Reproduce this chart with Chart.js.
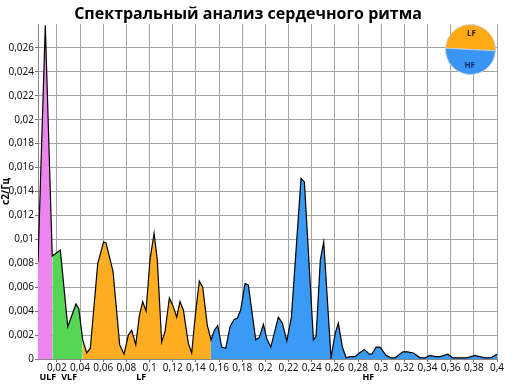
<!DOCTYPE html>
<html>
<head>
<meta charset="utf-8">
<script src="https://cdn.jsdelivr.net/npm/chart.js@4"></script>
<style>
  html, body { margin: 0; padding: 0; background: #fff; }
  #wrap { position: relative; width: 512px; height: 384px; }
  #main { position: absolute; left: 0; top: 0; }
  #pie { position: absolute; left: 445px; top: 24px; }
</style>
</head>
<body>
<div id="wrap">
  <canvas id="main" width="512" height="384"></canvas>
  <canvas id="pie" width="51" height="51"></canvas>
</div>
<script>
const titleText = 'Спектральный анализ сердечного ритма';
const yAxisTitle = 'с2/Гц';

// Spectrum (frequency, Hz  /  power, c2/Hz)
const freq = [
  0.0037, 0.0100, 0.0160,
  0.0230, 0.0294, 0.0365, 0.0389, 0.0423,
  0.0458, 0.0489, 0.0553, 0.0604, 0.0624, 0.0685, 0.0742, 0.0780, 0.0817, 0.0846,
  0.0881, 0.0912, 0.0941, 0.0970, 0.1004, 0.1039, 0.1067, 0.1105, 0.1134, 0.1171,
  0.1200, 0.1235, 0.1263, 0.1292, 0.1335, 0.1364, 0.1399, 0.1430, 0.1459, 0.1499, 0.1531,
  0.1560, 0.1589, 0.1623, 0.1658, 0.1695, 0.1730, 0.1758, 0.1787, 0.1825, 0.1853,
  0.1917, 0.1948, 0.1983, 0.2012, 0.2047, 0.2112, 0.2147, 0.2185, 0.2225, 0.2308,
  0.2337, 0.2415, 0.2438, 0.2475, 0.2504, 0.2567, 0.2602, 0.2630, 0.2665, 0.2697,
  0.2731, 0.2775, 0.2812, 0.2855, 0.2898, 0.2919, 0.2956, 0.2990, 0.3042, 0.3086,
  0.3120, 0.3187, 0.3226, 0.3278, 0.3336, 0.3379, 0.3422, 0.3465, 0.3509, 0.3575,
  0.3618, 0.3653, 0.3739, 0.3811, 0.3848, 0.3897, 0.3946, 0.4000
];
const power = [
  0.0081, 0.0279, 0.0086,
  0.0091, 0.0027, 0.0046, 0.0042, 0.0016,
  0.0005, 0.0009, 0.0080, 0.0098, 0.0097, 0.0073, 0.0012, 0.0004, 0.0020, 0.0024,
  0.0012, 0.0036, 0.0048, 0.0040, 0.0083, 0.0105, 0.0083, 0.0014, 0.0023, 0.0051,
  0.0045, 0.0035, 0.0048, 0.0041, 0.0013, 0.0005, 0.0040, 0.0065, 0.0060, 0.0028, 0.0016,
  0.0024, 0.0028, 0.0010, 0.0009, 0.0027, 0.0033, 0.0034, 0.0041, 0.0063, 0.0062,
  0.0016, 0.0018, 0.0029, 0.0017, 0.0010, 0.0035, 0.0030, 0.0015, 0.0035, 0.0151,
  0.0148, 0.0016, 0.0019, 0.0083, 0.0098, 0.0001, 0.0021, 0.0030, 0.0010, 0.0001,
  0.0002, 0.0002, 0.0005, 0.0008, 0.0004, 0.0004, 0.0010, 0.0010, 0.0003, 0.0001,
  0.0001, 0.0006, 0.0006, 0.0005, 0.0001, 0.0001, 0.0003, 0.0002, 0.0002, 0.0004,
  0.0001, 0.0001, 0.0001, 0.0003, 0.0002, 0.0001, 0.0001, 0.0004
];

const bandNames = ['ULF', 'VLF', 'LF', 'HF'];
const bandEdges = [0.0037, 0.0160, 0.0423, 0.1531, 0.4000];
const bandColors = ['#EE84EE', '#56D656', '#FFAE22', '#3A9BF6'];
const bandLabelFreq = [0.0122, 0.0306, 0.0929, 0.2889];

const pieLabels = ['LF', 'HF'];
const pieValues = [50, 50];
const pieColors = ['#FFAA14', '#3A95F4'];

const xTickValues = [0.02, 0.04, 0.06, 0.08, 0.1, 0.12, 0.14, 0.16, 0.18, 0.2,
                     0.22, 0.24, 0.26, 0.28, 0.3, 0.32, 0.34, 0.36, 0.38, 0.4];
const yTickValues = [0, 0.002, 0.004, 0.006, 0.008, 0.01, 0.012, 0.014,
                     0.016, 0.018, 0.02, 0.022, 0.024, 0.026];

const fmt = v => String(+v.toFixed(4)).replace('.', ',');
const TICK_FONT = { family: '"Noto Sans", "Liberation Sans", sans-serif', size: 10 };

const allPoints = freq.map((f, i) => ({ x: f, y: power[i] }));
const bandDatasets = bandNames.map((name, b) => ({
  label: name,
  data: allPoints.filter(p => p.x >= bandEdges[b] - 1e-9 && p.x <= bandEdges[b + 1] + 1e-9),
  backgroundColor: bandColors[b],
  borderWidth: 0,
  pointRadius: 0,
  fill: 'origin',
  tension: 0,
  order: 1
}));

const overlayPlugin = {
  id: 'overlayText',
  afterDraw(chart) {
    const ctx = chart.ctx;
    ctx.save();
    ctx.fillStyle = '#000';
    ctx.textAlign = 'center';
    ctx.textBaseline = 'alphabetic';
    ctx.font = 'bold 16px "Open Sans", "Noto Sans", sans-serif';
    ctx.fillText(titleText, 248, 19);
    ctx.font = 'bold 9px "Noto Sans", "Liberation Sans", sans-serif';
    ctx.textBaseline = 'middle';
    const xs = chart.scales.x;
    bandNames.forEach((n, i) => {
      ctx.fillText(n, xs.getPixelForValue(bandLabelFreq[i]), 377);
    });
    ctx.restore();
  }
};

new Chart(document.getElementById('main'), {
  type: 'line',
  data: {
    datasets: [
      {
        label: 'Спектр',
        data: allPoints,
        borderColor: '#000',
        borderWidth: 1.2,
        pointRadius: 0,
        fill: false,
        tension: 0,
        order: 0
      },
      ...bandDatasets
    ]
  },
  options: {
    responsive: false,
    animation: false,
    events: [],
    layout: { padding: { top: 24, right: 15, left: 0, bottom: 0 } },
    plugins: {
      legend: { display: false },
      tooltip: { enabled: false },
      title: { display: false }
    },
    scales: {
      x: {
        type: 'linear',
        min: 0.0037,
        max: 0.4,
        afterBuildTicks: axis => { axis.ticks = xTickValues.map(v => ({ value: v })); },
        afterFit: s => { s.height = 25; },
        ticks: {
          callback: v => fmt(v),
          font: TICK_FONT,
          color: '#111',
          maxRotation: 0,
          autoSkip: false,
          padding: 0
        },
        grid: { color: '#a3a3a3', lineWidth: 1, tickLength: 3, tickColor: '#777' },
        border: { color: '#888' }
      },
      y: {
        type: 'linear',
        min: 0,
        max: 0.028,
        afterBuildTicks: axis => { axis.ticks = yTickValues.map(v => ({ value: v })); },
        afterFit: s => { s.width = 38; },
        ticks: {
          callback: v => fmt(v),
          font: TICK_FONT,
          color: '#111',
          padding: 1
        },
        title: {
          display: true,
          text: yAxisTitle,
          font: { family: '"Noto Sans", "Liberation Sans", sans-serif', size: 10, weight: 'bold' },
          color: '#000',
          padding: { top: 0, bottom: 0 }
        },
        grid: { color: '#a3a3a3', lineWidth: 1, tickLength: 3, tickColor: '#777' },
        border: { color: '#888' }
      }
    }
  },
  plugins: [overlayPlugin]
});

const pieLabelPlugin = {
  id: 'pieLabels',
  afterDraw(chart) {
    const ctx = chart.ctx;
    const meta = chart.getDatasetMeta(0);
    ctx.save();
    ctx.font = 'bold 8px "Noto Sans", "Liberation Sans", sans-serif';
    ctx.textAlign = 'center';
    ctx.textBaseline = 'middle';
    meta.data.forEach((arc, i) => {
      const mid = (arc.startAngle + arc.endAngle) / 2;
      const r = arc.outerRadius * 0.64;
      ctx.fillStyle = i === 0 ? '#2a2200' : '#0d2c66';
      ctx.fillText(pieLabels[i], arc.x + Math.cos(mid) * r, arc.y + Math.sin(mid) * r);
    });
    ctx.restore();
  }
};

new Chart(document.getElementById('pie'), {
  type: 'pie',
  data: {
    labels: pieLabels,
    datasets: [{
      data: pieValues,
      backgroundColor: pieColors,
      borderColor: 'rgba(200,210,220,0.9)',
      borderWidth: 1
    }]
  },
  options: {
    responsive: false,
    animation: false,
    events: [],
    rotation: -87,
    layout: { padding: 0 },
    plugins: { legend: { display: false }, tooltip: { enabled: false }, title: { display: false } }
  },
  plugins: [pieLabelPlugin]
});
</script>
</body>
</html>
